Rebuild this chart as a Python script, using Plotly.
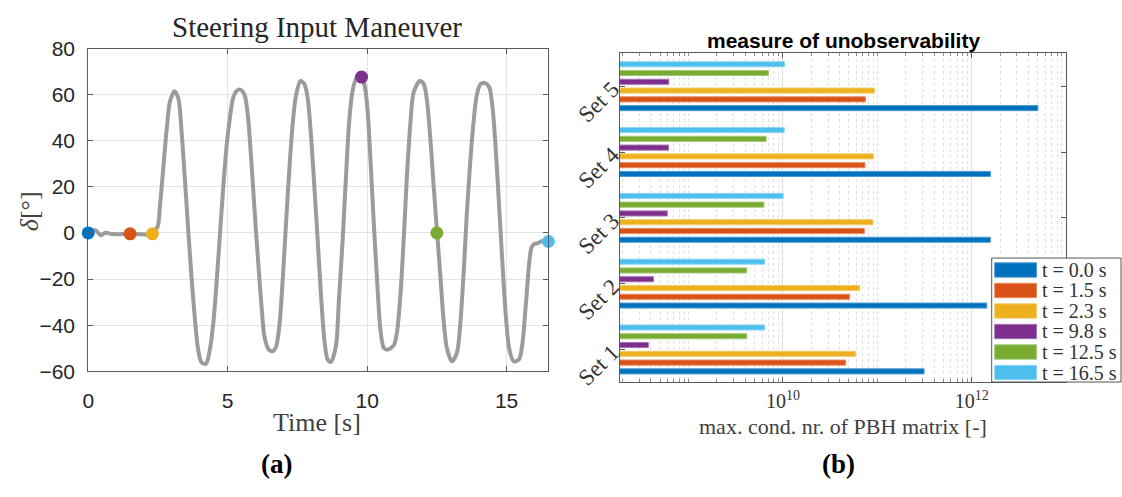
import plotly.graph_objects as go

# ---------------- data ----------------
# steering angle trace (time in s, angle in deg)
time_s = [0.00, 0.26, 0.44, 0.62, 0.85, 1.20, 1.50, 1.90, 2.28, 2.40, 2.50, 2.58, 2.70,
          2.82, 2.93, 3.09, 3.23, 3.35, 3.47, 3.59, 3.71, 3.83, 3.94, 4.06, 4.22,
          4.36, 4.48, 4.60, 4.72, 4.84, 4.96, 5.08, 5.19, 5.31, 5.47, 5.61, 5.73,
          5.85, 5.97, 6.09, 6.21, 6.32, 6.47, 6.62, 6.74, 6.86, 6.98, 7.10, 7.22,
          7.33, 7.45, 7.61, 7.75, 7.87, 7.99, 8.11, 8.23, 8.34, 8.46, 8.58, 8.70,
          8.88, 8.99, 9.12, 9.24, 9.35, 9.47, 9.62, 9.77, 9.91, 10.01, 10.13, 10.25,
          10.37, 10.48, 10.60, 10.75, 10.96, 11.08, 11.20, 11.32, 11.43, 11.55,
          11.67, 11.89, 12.03, 12.15, 12.27, 12.39, 12.51, 12.62, 12.74, 12.86,
          13.04, 13.22, 13.34, 13.46, 13.57, 13.69, 13.81, 13.93, 14.07, 14.23,
          14.38, 14.50, 14.62, 14.74, 14.86, 14.98, 15.10, 15.26, 15.45, 15.57,
          15.69, 15.81, 15.89, 15.98, 16.13, 16.25, 16.37, 16.50]
delta_deg = [0.0, 1.2, -1.0, 0.1, -0.5, -0.5, -0.5, -0.6, -0.6, 1.0, 3.2, 12.8, 29.4,
             46.0, 57.0, 61.5, 58.3, 43.2, 22.5, 0.4, -20.3, -38.2, -50.6, -56.1, -56.8,
             -50.6, -39.6, -21.7, -1.0, 19.7, 37.7, 50.0, 58.3, 61.5, 62.1, 59.7, 50.0,
             30.8, 8.7, -12.0, -31.3, -45.1, -50.6, -51.3, -49.2, -39.6, -18.9, 5.9, 29.4,
             47.3, 59.7, 65.9, 64.6, 58.3, 41.8, 19.7, -3.7, -25.8, -45.5, -54.8, -56.0,
             -49.2, -28.6, -3.7, 23.9, 47.3, 61.1, 67.3, 67.8, 63.9, 54.2, 29.4, 1.8,
             -23.0, -42.3, -49.9, -50.6, -48.6, -42.3, -25.8, -1.0, 25.2, 47.3,
             61.1, 65.9, 64.6, 57.0, 40.4, 19.7, 0.0, -17.5, -37.5, -50.0,
             -55.7, -52.0, -39.6, -17.5, 7.3, 29.4, 47.3, 59.7, 64.6, 65.0,
             63.2, 54.2, 34.9, 10.1, -14.8, -36.8, -50.6, -55.7, -54.8, -47.9,
             -31.3, -13.4, -6.5, -4.8, -4.4, -3.6, -3.4, -3.7]

# evaluation instants
eval_labels = ["t = 0.0 s", "t = 1.5 s", "t = 2.3 s", "t = 9.8 s", "t = 12.5 s", "t = 16.5 s"]
eval_time = [0.0, 1.5, 2.3, 9.8, 12.5, 16.5]
eval_delta = [0.0, -0.4, -0.4, 67.6, 0.0, -3.7]
eval_colors = ["#0072BD", "#D95319", "#EDB120", "#7E2F8E", "#77AC30", "#4DBEEE"]
edge_colors = ["#4d9bd3", "#e68a62", "#f3cb6d", "#a672b0", "#a0c874", "#8fd6f4"]

# max. condition number of the PBH matrix per sensor set and instant
sets = ["Set 1", "Set 2", "Set 3", "Set 4", "Set 5"]
cond_t00 = [3.12e11, 1.44e12, 1.57e12, 1.57e12, 5.0e12]
cond_t15 = [4.61e10, 5.07e10, 7.26e10, 7.38e10, 7.45e10]
cond_t23 = [5.89e10, 6.49e10, 8.95e10, 9.10e10, 9.27e10]
cond_t98 = [3.75e8, 4.26e8, 5.94e8, 6.14e8, 6.18e8]
cond_t125 = [4.14e9, 4.13e9, 6.28e9, 6.62e9, 7.00e9]
cond_t165 = [6.41e9, 6.40e9, 1.007e10, 1.03e10, 1.04e10]
cond_series = [cond_t00, cond_t15, cond_t23, cond_t98, cond_t125, cond_t165]

# ---------------- layout helpers ----------------
W, H = 1122, 497


def px_x(x):
    return x / W


def px_y(y):
    return 1 - y / H


SERIF = "Liberation Serif, DejaVu Serif, serif"
SANS = "Liberation Sans, Arial, sans-serif"
AXCOL = "#5a5a5a"
TXT = "#262626"

fig = go.Figure()

# steering trace
fig.add_trace(go.Scatter(
    x=time_s, y=delta_deg, mode="lines",
    line=dict(color="#9b9b9b", width=4, shape="spline", smoothing=0.8),
    xaxis="x", yaxis="y", showlegend=False, hoverinfo="skip"))

# evaluation instants on the trace
fig.add_trace(go.Scatter(
    x=eval_time, y=eval_delta, mode="markers",
    marker=dict(color=eval_colors, size=13, line=dict(width=0)),
    cliponaxis=False, xaxis="x", yaxis="y", showlegend=False))

# grouped horizontal bars
for lab, vals, col, ecol in zip(eval_labels, cond_series, eval_colors, edge_colors):
    fig.add_trace(go.Bar(
        y=sets, x=vals, orientation="h", name=lab,
        marker=dict(color=col, line=dict(color=ecol, width=1)),
        xaxis="x2", yaxis="y2", showlegend=False))

# minor tick positions on the log axis
minor_vals = [k * 10 ** n for n in range(8, 14) for k in range(1, 10)]

fig.update_layout(
    width=W, height=H,
    margin=dict(l=0, r=0, t=0, b=0),
    paper_bgcolor="white", plot_bgcolor="white",
    barmode="group", bargap=0.2, bargroupgap=0.42,
    xaxis=dict(
        domain=[px_x(82.7), px_x(545.3)], range=[0, 16.5],
        tickvals=[0, 5, 10, 15], ticks="inside", ticklen=5, tickcolor=AXCOL,
        showline=True, linecolor=AXCOL, linewidth=1, mirror="ticks",
        showgrid=True, gridcolor="#e4e4e4", gridwidth=1, zeroline=False,
        tickfont=dict(family=SANS, size=21, color=TXT), ticklabelstandoff=11,
        anchor="y"),
    yaxis=dict(
        domain=[px_y(376.7), px_y(38.3)], range=[-60, 80],
        tickvals=[-60, -40, -20, 0, 20, 40, 60, 80], ticks="inside", ticklen=5,
        tickcolor=AXCOL, showline=True, linecolor=AXCOL, linewidth=1, mirror="ticks",
        showgrid=True, gridcolor="#e4e4e4", gridwidth=1, zeroline=False,
        tickfont=dict(family=SANS, size=21, color=TXT), ticklabelstandoff=8,
        anchor="x"),
    xaxis2=dict(
        type="log", domain=[px_x(617.3), px_x(1066)], range=[8.274, 13.0],
        tickvals=[1e10, 1e12], ticktext=["10<sup>10</sup>", "10<sup>12</sup>"],
        ticks="inside", ticklen=5, tickcolor=AXCOL,
        showline=True, linecolor=AXCOL, linewidth=1, mirror="ticks",
        showgrid=True, gridcolor="#e0e0e0", gridwidth=1, zeroline=False,
        minor=dict(tickvals=minor_vals, ticks="inside", ticklen=3, tickcolor="#8a8a8a",
                   showgrid=True, gridcolor="#e0e0e0", griddash="dot", gridwidth=1),
        tickfont=dict(family=SERIF, size=20, color="#333"), ticklabelstandoff=1,
        anchor="y2"),
    yaxis2=dict(
        domain=[px_y(388.3), px_y(43.3)], range=[-0.5, 4.5],
        ticks="inside", ticklen=5, tickcolor=AXCOL, tickangle=-45,
        showline=True, linecolor=AXCOL, linewidth=1, mirror="ticks",
        showgrid=False, zeroline=False,
        tickfont=dict(family=SERIF, size=23, color="#333"), ticklabelstandoff=2,
        anchor="x2"),
)

annotations = [
    dict(text="Steering Input Maneuver", x=px_x(313), y=px_y(16),
         font=dict(family=SERIF, size=29, color=TXT)),
    dict(text="Time [s]", x=px_x(313), y=px_y(430),
         font=dict(family=SERIF, size=26, color="#404040")),
    dict(text="<i>δ</i>[°]", x=px_x(23), y=px_y(209), textangle=-90,
         font=dict(family=SERIF, size=26, color="#404040")),
    dict(text="<b>measure of unobservability</b>", x=px_x(842), y=px_y(30),
         font=dict(family=SANS, size=21, color="black")),
    dict(text="max. cond. nr. of PBH matrix [-]", x=px_x(842), y=px_y(435),
         font=dict(family=SERIF, size=22, color="#404040")),
    dict(text="<b>(a)</b>", x=px_x(272), y=px_y(474),
         font=dict(family=SERIF, size=27, color="black")),
    dict(text="<b>(b)</b>", x=px_x(837), y=px_y(474),
         font=dict(family=SERIF, size=27, color="black")),
]
for a in annotations:
    a.update(xref="paper", yref="paper", showarrow=False, xanchor="center", yanchor="middle")

# legend box for the bar chart
shapes = [dict(type="rect", xref="paper", yref="paper",
               x0=px_x(991), x1=px_x(1121), y0=px_y(388), y1=px_y(258),
               line=dict(color="#555", width=1), fillcolor="white", layer="above")]
row0, row_step = 270.5, 21.5
for i, (lab, col, ecol) in enumerate(zip(eval_labels, eval_colors, edge_colors)):
    yc = row0 + i * row_step
    shapes.append(dict(type="rect", xref="paper", yref="paper",
                       x0=px_x(994), x1=px_x(1036), y0=px_y(yc + 7.5), y1=px_y(yc - 7.5),
                       line=dict(color=ecol, width=1), fillcolor=col, layer="above"))
    annotations.append(dict(text=lab, xref="paper", yref="paper", x=px_x(1040), y=px_y(yc),
                            xanchor="left", yanchor="middle", showarrow=False,
                            font=dict(family=SERIF, size=20, color="#333")))

fig.update_layout(annotations=annotations, shapes=shapes)

fig.write_html("out.html")
